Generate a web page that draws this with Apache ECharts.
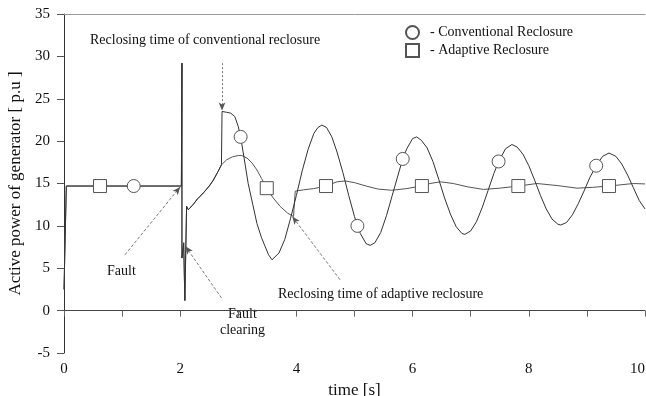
<!DOCTYPE html>
<html lang="en">
<head>
    <meta charset="UTF-8">
    <title>Active power of generator</title>
    <style>
        html, body { margin: 0; padding: 0; background: #fff; }
        #chart { width: 646px; height: 396px; }
    </style>
</head>
<body>
<div id="chart"></div>
<script src="https://cdn.jsdelivr.net/npm/echarts@6/dist/echarts.min.js"></script>
<script>
    // values: [time s, power p.u]
    var commonStart = [
        [0, 2.5], [0.04, 14.7], [2.02, 14.7], [2.03, 29.2], [2.03, 6.2], [2.06, 8.0], [2.08, 1.2],
        [2.11, 12.3], [2.14, 11.9], [2.22, 12.5], [2.3, 13.2], [2.4, 13.9], [2.5, 14.7],
        [2.57, 15.4], [2.65, 16.4], [2.71, 17.2]
    ];
    var convTail = [
        [2.72, 23.5], [2.8, 23.4], [2.87, 23.3], [2.94, 22.9], [3.0, 21.7], [3.04, 20.5], [3.1, 18.0],
        [3.17, 15.0], [3.25, 12.5], [3.32, 10.3], [3.4, 8.6], [3.46, 7.6], [3.52, 6.6], [3.58, 6.0],
        [3.7, 6.8], [3.8, 8.4], [3.9, 10.9], [4.0, 13.6], [4.1, 16.5], [4.2, 19.0], [4.3, 20.9],
        [4.37, 21.6], [4.44, 21.9], [4.52, 21.6], [4.61, 20.5], [4.7, 18.7], [4.8, 16.3], [4.9, 13.6],
        [5.0, 11.1], [5.05, 10.0], [5.1, 9.1], [5.2, 7.9], [5.27, 7.7], [5.35, 8.0], [5.45, 9.2],
        [5.55, 11.2], [5.65, 13.6], [5.75, 16.0], [5.83, 17.9], [5.9, 19.1], [6.0, 20.3], [6.07, 20.5],
        [6.15, 20.1], [6.25, 19.2], [6.35, 17.6], [6.45, 15.5], [6.55, 13.3], [6.65, 11.4], [6.75, 9.9],
        [6.85, 9.1], [6.9, 9.0], [7.0, 9.4], [7.1, 10.5], [7.2, 12.2], [7.3, 14.2], [7.4, 16.2],
        [7.48, 17.6], [7.6, 19.1], [7.71, 19.6], [7.8, 19.3], [7.9, 18.45], [8.0, 17.1], [8.1, 15.4],
        [8.2, 13.6], [8.3, 12.0], [8.4, 10.8], [8.5, 10.2], [8.55, 10.1], [8.65, 10.4], [8.75, 11.3],
        [8.85, 12.6], [8.95, 14.1], [9.05, 15.7], [9.16, 17.1], [9.27, 18.2], [9.38, 18.6], [9.5, 18.2],
        [9.6, 17.3], [9.7, 16.0], [9.8, 14.5], [9.9, 13.0], [10.0, 12.0]
    ];
    var adaptTail = [
        [2.8, 17.8], [2.9, 18.15], [3.0, 18.3], [3.06, 18.3], [3.15, 18.0], [3.24, 17.4], [3.32, 16.6],
        [3.4, 15.6], [3.49, 14.45], [3.6, 13.3], [3.72, 12.3], [3.85, 11.5], [3.95, 11.1], [3.97, 11.0],
        [3.98, 14.1], [4.12, 14.25], [4.3, 14.4], [4.51, 14.7], [4.7, 15.2], [4.84, 15.3], [5.0, 15.1],
        [5.2, 14.7], [5.4, 14.35], [5.64, 14.2], [5.9, 14.4], [6.15, 14.7], [6.3, 15.0], [6.48, 15.2],
        [6.7, 15.0], [6.95, 14.6], [7.22, 14.3], [7.5, 14.45], [7.82, 14.7], [8.14, 15.0], [8.5, 14.75],
        [8.83, 14.45], [9.1, 14.55], [9.38, 14.7], [9.8, 15.0], [10.0, 14.95]
    ];
    var convMarks = [[1.2, 14.7], [3.04, 20.5], [5.05, 10.0], [5.83, 17.9], [7.48, 17.6], [9.16, 17.1]];
    var adaptMarks = [[0.62, 14.7], [3.49, 14.45], [4.51, 14.7], [6.16, 14.7], [7.82, 14.7], [9.38, 14.7]];

    // pointer lines: [from, to]
    var faultArrow = [[1.05, 6.6], [2.0, 14.6]];
    var clearArrow = [[2.71, 1.5], [2.09, 7.6]];
    var adaptArrow = [[4.75, 3.65], [3.93, 11.1]];
    var convPointer = [[2.72, 29.2], [2.72, 23.6]];

    var xTicks = [0, 10, 1];
    var yTicks = [-5, 35, 5];

    var serif = '"Liberation Serif", "DejaVu Serif", serif';

    function arrow(p, dashed) {
        return [
            {coord: p[0], symbol: 'none'},
            {coord: p[1], symbol: 'arrow', symbolSize: [5, 8], lineStyle: {type: dashed}}
        ];
    }

    var chart = echarts.init(document.getElementById('chart'));
    var option = {
        animation: false,
        backgroundColor: '#fff',
        textStyle: {fontFamily: serif},
        grid: {left: 64, right: 1, top: 14, bottom: 43, outerBoundsMode: 'none'},
        legend: {
            orient: 'vertical',
            left: 400,
            top: 20,
            itemWidth: 13,
            itemHeight: 13,
            itemGap: 3,
            selectedMode: false,
            data: ['conv', 'adapt'],
            formatter: function (n) {
                return n === 'conv' ? '- Conventional Reclosure' : '- Adaptive Reclosure';
            },
            textStyle: {fontFamily: serif, fontSize: 14, color: '#111', padding: [0, 0, 0, 6]}
        },
        xAxis: [{
            type: 'value',
            min: xTicks[0], max: xTicks[1], interval: xTicks[2],
            name: 'time [s]',
            nameLocation: 'middle',
            nameGap: 20,
            nameTextStyle: {fontFamily: serif, fontSize: 17, color: '#111'},
            axisLine: {lineStyle: {color: '#444', width: 1}},
            axisTick: {length: 6, lineStyle: {color: '#666'}},
            axisLabel: {
                margin: 9, fontSize: 15, color: '#111', fontFamily: serif,
                alignMaxLabel: 'right',
                formatter: function (v) { return v % 2 === 0 ? v : ''; }
            },
            splitLine: {show: false}
        }, {
            type: 'value',
            position: 'top',
            min: xTicks[0], max: xTicks[1],
            axisLine: {show: true, lineStyle: {color: '#999', width: 1}},
            axisTick: {show: false},
            axisLabel: {show: false},
            splitLine: {show: false}
        }],
        yAxis: {
            type: 'value',
            min: yTicks[0], max: yTicks[1], interval: yTicks[2],
            name: 'Active power of generator [ p.u ]',
            nameLocation: 'middle',
            nameGap: 38,
            nameTextStyle: {fontFamily: serif, fontSize: 17, color: '#111'},
            axisLine: {show: true, lineStyle: {color: '#333', width: 1}},
            axisTick: {show: true, length: 7, lineStyle: {color: '#555'}},
            axisLabel: {margin: 14, fontSize: 15, color: '#111', fontFamily: serif},
            splitLine: {show: false}
        },
        series: [
            {
                name: 'adaptLine',
                type: 'line',
                xAxisIndex: 0,
                data: commonStart.concat(adaptTail),
                showSymbol: false,
                lineStyle: {color: '#555', width: 1},
                silent: true
            },
            {
                name: 'convLine',
                type: 'line',
                xAxisIndex: 0,
                data: commonStart.concat(convTail),
                showSymbol: false,
                lineStyle: {color: '#333', width: 1},
                silent: true,
                markLine: {
                    silent: true,
                    animation: false,
                    label: {show: false},
                    lineStyle: {color: '#555', width: 0.8, type: [3, 2]},
                    data: [
                        arrow(faultArrow, [3, 2]),
                        arrow(clearArrow, [3, 2]),
                        arrow(adaptArrow, [3, 2]),
                        arrow(convPointer, [2, 2])
                    ]
                }
            },
            {
                name: 'conv',
                type: 'scatter',
                xAxisIndex: 0,
                data: convMarks,
                symbol: 'circle',
                symbolSize: 13,
                itemStyle: {color: '#fff', borderColor: '#555', borderWidth: 1, opacity: 1},
                z: 5
            },
            {
                name: 'adapt',
                type: 'scatter',
                xAxisIndex: 0,
                data: adaptMarks,
                symbol: 'rect',
                symbolSize: 13,
                itemStyle: {color: '#fff', borderColor: '#555', borderWidth: 1, opacity: 1},
                z: 5
            }
        ],
        graphic: [
            {type: 'text', left: 90, top: 33, style: {text: 'Reclosing time of conventional reclosure', font: '14px ' + serif, fill: '#111'}},
            {type: 'text', left: 107, top: 264, style: {text: 'Fault', font: '14px ' + serif, fill: '#111'}},
            {type: 'text', left: 228, top: 307, style: {text: 'Fault', font: '14px ' + serif, fill: '#111'}},
            {type: 'text', left: 220, top: 323, style: {text: 'clearing', font: '14px ' + serif, fill: '#111'}},
            {type: 'text', left: 278, top: 287, style: {text: 'Reclosing time of adaptive reclosure', font: '14px ' + serif, fill: '#111'}}
        ]
    };
    chart.setOption(option);
</script>
</body>
</html>
